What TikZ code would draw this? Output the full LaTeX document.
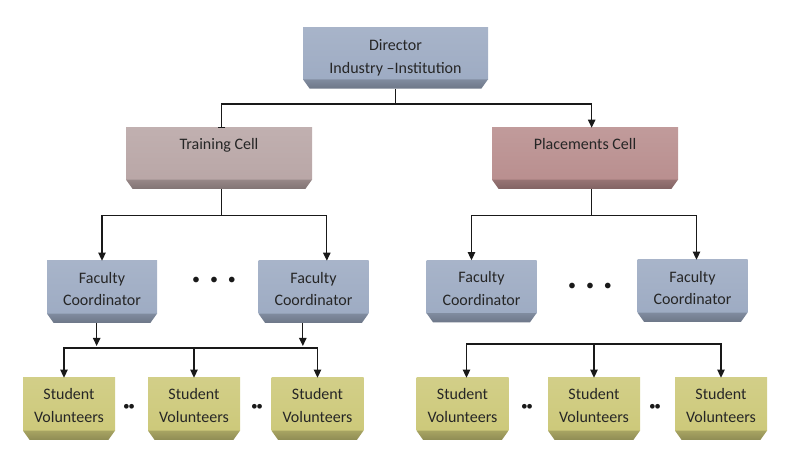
\documentclass[tikz,border=0pt]{standalone}
\usepackage{fontspec}
\setmainfont{Carlito}
\usetikzlibrary{arrows.meta}

\definecolor{dirblue}{RGB}{156,170,194}
\definecolor{trainrose}{RGB}{184,165,165}
\definecolor{placerose}{RGB}{184,141,141}
\definecolor{studkhaki}{RGB}{204,200,120}

% face with a darker chamfered band at the bottom
\newcommand{\bevelface}[1]{%
  \shade[top color=#1!88!white, bottom color=#1]
    (path picture bounding box.north west) rectangle ([yshift=7pt]path picture bounding box.south east);
  \shade[top color=#1!82!black, bottom color=#1!70!black]
    ([yshift=7pt]path picture bounding box.south west) -- ([yshift=7pt]path picture bounding box.south east)
    -- ([xshift=-5pt]path picture bounding box.south east) -- ([xshift=5pt]path picture bounding box.south west) -- cycle;}

\tikzset{
  box/.style={inner sep=0pt, align=center, text=black!85,
    font=\fontsize{12}{17}\selectfont, path picture={\bevelface{#1}}},
  cellbox/.style={box=#1, minimum width=139.5pt, minimum height=45.75pt, text depth=22pt},
  facbox/.style={box=dirblue, minimum width=82.5pt, minimum height=46.5pt, text depth=4.5pt},
  studbox/.style={box=studkhaki, minimum width=69pt, minimum height=46.5pt, text depth=5pt},
  conn/.style={line width=0.9pt, black!90},
  arr/.style={conn, -{Triangle[length=6pt,width=5.5pt]}},
  dots/.style={inner sep=0pt, text=black!90},
}

\begin{document}
\begin{tikzpicture}[x=0.75pt,y=-0.75pt]
	\useasboundingbox (0,0) rectangle (794,452);
	% boxes
	\node[box=dirblue, minimum width=138.75pt, minimum height=46pt] (dir) at (395.5,58) {Director\\Industry --Institution};
	\node[cellbox=trainrose] (train) at (219,158.5) {Training Cell};
	\node[cellbox=placerose] (plac) at (585,158.5) {Placements Cell};
	\node[facbox] (lf1) at (102,292) {Faculty\\Coordinator};
	\node[facbox] (lf2) at (313.5,292) {Faculty\\Coordinator};
	\node[facbox] (rf1) at (481.5,291.5) {Faculty\\Coordinator};
	\node[facbox] (rf2) at (692.5,291) {Faculty\\Coordinator};
	\foreach \name/\x in {ls1/69, ls2/194, ls3/317.5, rs1/462.5, rs2/594, rs3/721} {
		\node[studbox] (\name) at (\x,409) {Student\\Volunteers};
	}
	% dots
	\node[dots, font=\fontsize{12}{12}\selectfont] (ldots) at (214,281) {\textbullet\hspace{7.5pt}\textbullet\hspace{7.5pt}\textbullet};
	\node[dots, font=\fontsize{12}{12}\selectfont] (rdots) at (590,287) {\textbullet\hspace{7.5pt}\textbullet\hspace{7.5pt}\textbullet};
	\foreach \name/\x in {ld1/129, ld2/257, rd1/527, rd2/655} {
		\node[dots, font=\fontsize{10}{10}\selectfont] (\name) at (\x,407) {\textbullet\hspace{-1pt}\textbullet};
	}
	% director to cells
	\coordinate (tj) at (395.5,104);
	\draw[conn] (dir.south) -- (tj);
	\draw[conn, -{Bar[width=5pt]}] (tj) -| ([xshift=2pt]train.north);
	\draw[arr] (tj) -| ([xshift=5pt]plac.north);
	% cells to coordinators
	\coordinate (tsj) at ([xshift=2pt,yshift=-19.5pt]train.south);
	\draw[conn] ([xshift=2pt]train.south) -- (tsj);
	\draw[arr] (tsj) -| (lf1.north);
	\draw[arr] (tsj) -| ([xshift=10pt]lf2.north);
	\coordinate (psj) at ([xshift=5pt,yshift=-19.5pt]plac.south);
	\draw[conn] ([xshift=5pt]plac.south) -- (psj);
	\draw[arr] (psj) -| ([xshift=-7.5pt]rf1.north);
	\draw[arr] (psj) -| ([xshift=3pt]rf2.north);
	% coordinators to volunteers
	\coordinate (lsj) at (193,348);
	\draw[arr, shorten >=1.5pt] ([xshift=-4pt]lf1.south) -- ([xshift=-4pt]lf1.south |- lsj);
	\draw[arr, shorten >=1.5pt] ([xshift=-8pt]lf2.south) -- ([xshift=-8pt]lf2.south |- lsj);
	\draw[conn] (lsj -| ls1.north) ++(-3.75pt,0) -- (lsj -| ls3.north);
	\draw[arr] (lsj) -| ([xshift=-3.75pt]ls1.north);
	\draw[arr] (lsj) -| (ls2.north);
	\draw[arr] (lsj) -| (ls3.north);
	\coordinate (rsj) at (592,344);
	\draw[arr] (rsj) -| ([xshift=3pt]rs1.north);
	\draw[arr] (rsj) -| (rs2.north);
	\draw[arr] (rsj) -| (rs3.north);
\end{tikzpicture}
\end{document}
